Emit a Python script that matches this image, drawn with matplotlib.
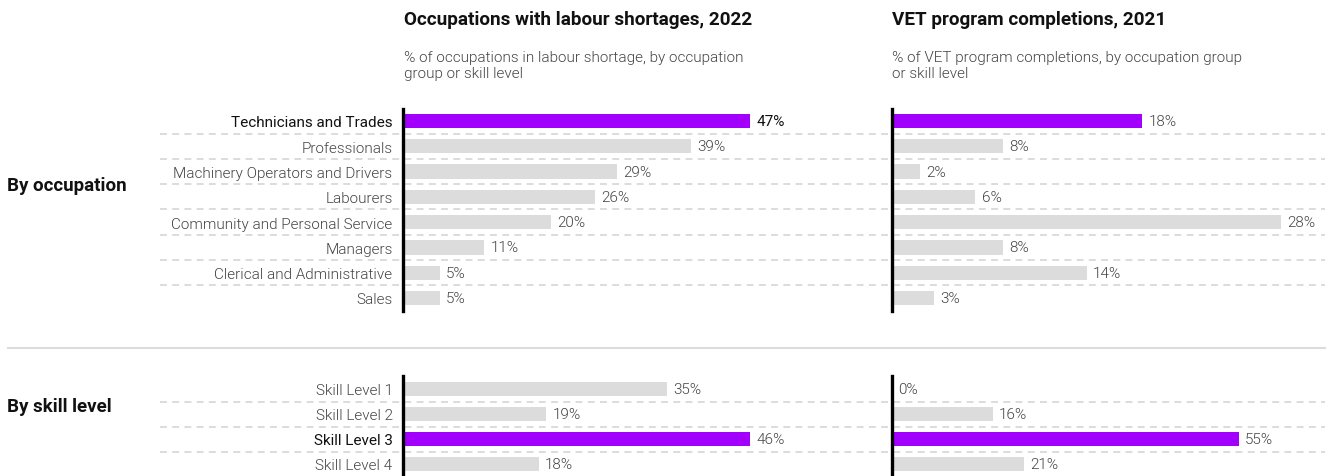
import matplotlib
matplotlib.use("Agg")
import matplotlib.pyplot as plt
from matplotlib.transforms import blended_transform_factory
from matplotlib.lines import Line2D

plt.rcParams['font.family'] = ['Roboto', 'DejaVu Sans']

# ---- data -------------------------------------------------------------
occupations = ["Technicians and Trades", "Professionals",
               "Machinery Operators and Drivers", "Labourers",
               "Community and Personal Service", "Managers",
               "Clerical and Administrative", "Sales"]
occ_shortage = [47, 39, 29, 26, 20, 11, 5, 5]
occ_vet = [18, 8, 2, 6, 28, 8, 14, 3]

skill_levels = ["Skill Level 1", "Skill Level 2", "Skill Level 3", "Skill Level 4"]
skill_shortage = [35, 19, 46, 18]
skill_vet = [0, 16, 55, 21]

occ_highlight = "Technicians and Trades"
skill_highlight = "Skill Level 3"

titles = ["Occupations with labour shortages, 2022", "VET program completions, 2021"]
subtitles = ["% of occupations in labour shortage, by occupation\ngroup or skill level",
             "% of VET program completions, by occupation group\nor skill level"]
section_labels = ["By occupation", "By skill level"]

# ---- style ------------------------------------------------------------
W, H = 1330, 477
PURPLE = "#A100FF"
GREY_BAR = "#DCDCDC"
DASH = "#D2D2D2"
TXT = "#444444"
FS = 11
LIGHT = 300

fig = plt.figure(figsize=(W / 100, H / 100), dpi=100)


def px_axes(x0, y0, x1, y1):
    """Axes placed by pixel box (top-left origin)."""
    return fig.add_axes([x0 / W, 1 - y1 / H, (x1 - x0) / W, (y1 - y0) / H])


def panel(box, xmax, cats, vals, highlight, labels, ylim, bold_value):
    ax = px_axes(*box)
    ax.patch.set_visible(False)
    pos = list(range(len(cats)))
    colors = [PURPLE if c == highlight else GREY_BAR for c in cats]
    ax.barh(pos, vals, height=0.56, color=colors, zorder=1)
    ax.set_xlim(0, xmax)
    ax.set_ylim(*ylim)
    for s in ["top", "right", "bottom"]:
        ax.spines[s].set_visible(False)
    ax.spines["left"].set_linewidth(2.4)
    ax.spines["left"].set_color("black")
    ax.spines["left"].set_zorder(5)
    ax.set_xticks([])
    ax.set_yticks(pos)
    ax.tick_params(axis="y", length=0, pad=7.5)
    if labels:
        ax.set_yticklabels(cats, fontsize=FS)
        for lbl, c in zip(ax.get_yticklabels(), cats):
            if c == highlight:
                lbl.set_color("#111111")
                lbl.set_fontweight("normal")
            else:
                lbl.set_color(TXT)
                lbl.set_fontweight(LIGHT)
    else:
        ax.set_yticklabels([])
    for p, v, c in zip(pos, vals, cats):
        strong = bold_value and c == highlight
        ax.annotate(f"{v}%", (v, p), xytext=(4.5, 0), textcoords="offset points",
                    va="center", ha="left", fontsize=FS,
                    color="#111111" if strong else TXT,
                    fontweight="normal" if strong else LIGHT)
    tr = blended_transform_factory(fig.transFigure, ax.transData)
    return ax, tr


# top block: rows centred at y=122 ... 299 px
top_step = (299 - 122) / 7
top_ylim = ((312 - 122) / top_step, (110 - 122) / top_step)
ax_tl, tr_top = panel((403, 110, 800, 312), 397 / 7.38, occupations, occ_shortage,
                      occ_highlight, True, top_ylim, True)
ax_tr, _ = panel((892, 110, 1330, 312), 438 / 13.9, occupations, occ_vet,
                 occ_highlight, False, top_ylim, False)

# bottom block: rows centred at y=390 ... 465 px
bot_step = 25.0
bot_ylim = ((477 - 390) / bot_step, (377 - 390) / bot_step)
ax_bl, tr_bot = panel((403, 377, 800, 477), 397 / 7.54, skill_levels, skill_shortage,
                      skill_highlight, True, bot_ylim, False)
ax_br, _ = panel((892, 377, 1330, 477), 438 / 6.3, skill_levels, skill_vet,
                 skill_highlight, False, bot_ylim, False)

# dashed row separators spanning both panels
for ax, tr, n in [(ax_tl, tr_top, len(occupations)), (ax_bl, tr_bot, len(skill_levels))]:
    for i in range(n - 1):
        ax.add_line(Line2D([160 / W, 1325 / W], [i + 0.5, i + 0.5], transform=tr,
                           color=DASH, lw=1.1, linestyle=(0, (4.5, 3.5)),
                           clip_on=False, zorder=0))

# section divider
fig.add_artist(Line2D([8 / W, 1325 / W], [1 - 349 / H, 1 - 349 / H],
                      color="#DCDCDC", lw=1.5))

# section labels
fig.text(7 / W, 1 - 186 / H, section_labels[0], fontsize=13.5, fontweight="bold",
         color="#111111", va="center", ha="left")
fig.text(7 / W, 1 - 407 / H, section_labels[1], fontsize=13.5, fontweight="bold",
         color="#111111", va="center", ha="left")

# panel titles and subtitles
for x, t, s in [(404, titles[0], subtitles[0]), (892, titles[1], subtitles[1])]:
    fig.text(x / W, 1 - 20 / H, t, fontsize=13.6, fontweight="bold",
             color="#111111", va="center", ha="left")
    fig.text(x / W, 1 - 51 / H, s, fontsize=FS, color=TXT, fontweight=LIGHT,
             va="top", ha="left", linespacing=1.2)

fig.savefig("out.png", dpi=100)
